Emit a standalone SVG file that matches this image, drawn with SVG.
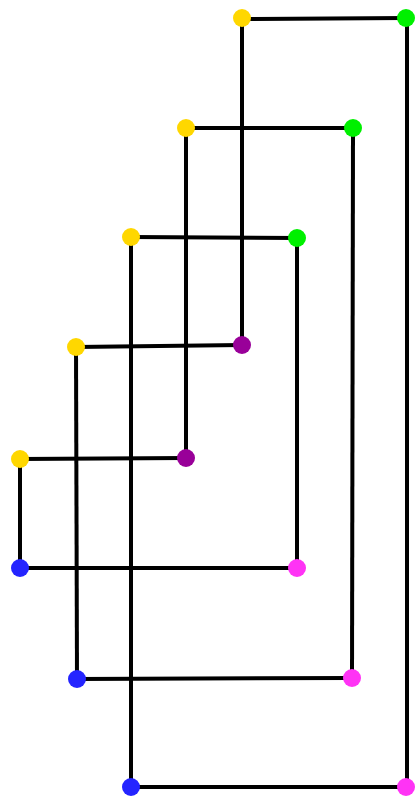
<svg xmlns="http://www.w3.org/2000/svg" width="415" height="799" viewBox="0 0 415 799">
<style>
.e{stroke:#000;stroke-width:4;fill:none;stroke-linecap:butt}
.n{stroke:none}
.y{fill:#FFD700}.g{fill:#00F000}.p{fill:#990099}.b{fill:#2424FF}.m{fill:#FF33F5}
</style>
<rect width="415" height="799" fill="#fff"/>
<g id="edges">
<line class="e" x1="242" y1="19" x2="406" y2="18"/>
<line class="e" x1="407" y1="18" x2="407" y2="787"/>
<line class="e" x1="131" y1="787" x2="406" y2="787"/>
<line class="e" x1="131" y1="237" x2="131" y2="787"/>
<line class="e" x1="131" y1="237" x2="297" y2="238"/>
<line class="e" x1="297" y1="238" x2="297" y2="568"/>
<line class="e" x1="20" y1="568" x2="297" y2="568"/>
<line class="e" x1="20" y1="459" x2="20" y2="568"/>
<line class="e" x1="20" y1="459" x2="186" y2="458"/>
<line class="e" x1="186" y1="128" x2="186" y2="458"/>
<line class="e" x1="186" y1="128" x2="353" y2="128"/>
<line class="e" x1="353" y1="128" x2="352" y2="678"/>
<line class="e" x1="77" y1="679" x2="352" y2="678"/>
<line class="e" x1="76" y1="347" x2="77" y2="679"/>
<line class="e" x1="76" y1="347" x2="242" y2="345"/>
<line class="e" x1="242" y1="19" x2="242" y2="345"/>
</g>
<g id="y1"><circle class="n y" cx="242" cy="18" r="9"/></g>
<g id="y2"><circle class="n y" cx="186" cy="128" r="9"/></g>
<g id="y3"><circle class="n y" cx="131" cy="237" r="9"/></g>
<g id="y4"><circle class="n y" cx="76" cy="347" r="9"/></g>
<g id="y5"><circle class="n y" cx="20" cy="459" r="9"/></g>
<g id="g1"><circle class="n g" cx="406" cy="18" r="9"/></g>
<g id="g2"><circle class="n g" cx="353" cy="128" r="9"/></g>
<g id="g3"><circle class="n g" cx="297" cy="238" r="9"/></g>
<g id="p1"><circle class="n p" cx="242" cy="345" r="9"/></g>
<g id="p2"><circle class="n p" cx="186" cy="458" r="9"/></g>
<g id="b1"><circle class="n b" cx="20" cy="568" r="9"/></g>
<g id="b2"><circle class="n b" cx="77" cy="679" r="9"/></g>
<g id="b3"><circle class="n b" cx="131" cy="787" r="9"/></g>
<g id="m1"><circle class="n m" cx="297" cy="568" r="9"/></g>
<g id="m2"><circle class="n m" cx="352" cy="678" r="9"/></g>
<g id="m3"><circle class="n m" cx="406" cy="787" r="9"/></g>
</svg>
